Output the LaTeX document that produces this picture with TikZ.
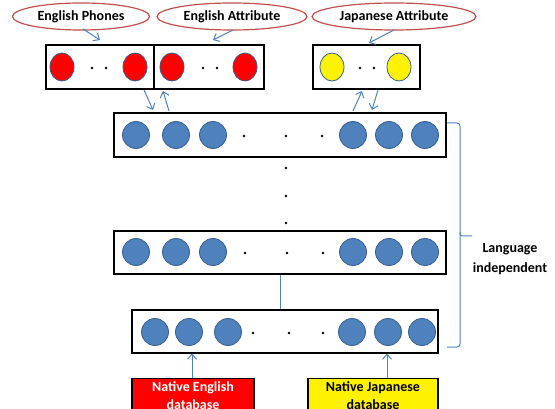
\documentclass[tikz,border=0pt]{standalone}
\usepackage{fontspec}
\setmainfont{Carlito}
\usetikzlibrary{shapes.geometric,arrows.meta}
\definecolor{nblue}{HTML}{4F81BD}
\definecolor{nbluedark}{HTML}{385D8A}
\definecolor{ered}{HTML}{C0504D}
\begin{document}
\begin{tikzpicture}[x=1pt,y=-1pt,
  lbl/.style={ellipse, draw=ered, line width=1.2pt, fill=white, minimum height=27pt, inner sep=0pt, font=\fontsize{14}{16}\selectfont\bfseries},
  layerbox/.style={draw=black, line width=1.3pt, fill=white, inner sep=0pt},
  rc/.style={ellipse, draw=nbluedark, line width=0.8pt, fill=red, minimum width=24pt, minimum height=28pt, inner sep=0pt},
  yc/.style={ellipse, draw=nbluedark, line width=0.8pt, fill=yellow, minimum width=24pt, minimum height=28pt, inner sep=0pt},
  bc/.style={circle, draw=nbluedark, line width=0.8pt, fill=nblue, minimum size=27pt, inner sep=0pt},
  dt/.style={circle, fill=black, minimum size=2.6pt, inner sep=0pt},
  arr/.style={draw=nblue, line width=1pt, -{Straight Barb[length=5pt,width=9pt]}},
  dbbox/.style={draw=black, line width=1.3pt, inner sep=0pt, align=center, font=\fontsize{14}{18}\selectfont\bfseries}
]
\useasboundingbox (0,0) rectangle (555,409);
\clip (0,0) rectangle (555,409);

% ellipses
\node[lbl, minimum width=137pt] (ep) at (81,16.5) {English Phones};
\node[lbl, minimum width=150pt] (ea) at (232,16.5) {English Attribute};
\node[lbl, minimum width=164pt] (ja) at (394,16.5) {Japanese Attribute};

% top boxes
\node[layerbox, minimum width=108pt, minimum height=44pt] (b1) at (100,67) {};
\node[layerbox, minimum width=110pt, minimum height=44pt] (b2) at (209,67) {};
\node[layerbox, minimum width=107pt, minimum height=44pt] (b3) at (366.5,67) {};

\node[rc] (r1) at (62,67) {};
\node[rc] (r2) at (135,67) {};
\node[dt] (rd1) at (92,68) {};
\node[dt] (rd2) at (106,68) {};
\node[rc] (r3) at (172,67) {};
\node[rc] (r4) at (245,67) {};
\node[dt] (rd3) at (203,68) {};
\node[dt] (rd4) at (217,68) {};
\node[yc] (y1) at (332,67) {};
\node[yc] (y2) at (399,67) {};
\node[dt] (yd1) at (360,68) {};
\node[dt] (yd2) at (374,68) {};

% hidden layers
\node[layerbox, minimum width=332pt, minimum height=44pt] (h1) at (280,135) {};
\node[layerbox, minimum width=332pt, minimum height=43pt] (h2) at (280,252.5) {};
\node[layerbox, minimum width=306pt, minimum height=43pt] (h3) at (285,331.5) {};

\foreach \x [count=\i] in {136,176,213,353,389,425}{
  \node[bc] (h1c\i) at (\x,135) {};
  \node[bc] (h2c\i) at (\x,252) {};
}
\foreach \x [count=\i] in {244,286,322}{
  \node[dt] (h1d\i) at (\x,136) {};
}
\foreach \x [count=\i] in {245,287,323}{
  \node[dt] (h2d\i) at (\x,253) {};
}
\foreach \y [count=\i] in {168,196,223}{
  \node[dt] (vd\i) at (286,\y) {};
}
\foreach \x [count=\i] in {155,189,228,352,388,422}{
  \node[bc] (h3c\i) at (\x,332) {};
}
\foreach \x [count=\i] in {253,289,323}{
  \node[dt] (h3d\i) at (\x,333) {};
}

% database boxes
\node[dbbox, fill=red, text=white, minimum width=122pt, minimum height=34pt, anchor=north] (db1) at (193,378) {Native English\\database};
\node[dbbox, fill=yellow, text=black, minimum width=130pt, minimum height=34pt, anchor=north] (db2) at (373,378) {Native Japanese\\database};

% arrows from ellipses
\coordinate (epS) at (83,29);
\coordinate (epE) at (100,40);
\coordinate (eaS) at (233,30);
\coordinate (eaE) at (213,40);
\coordinate (jaS) at (394,30);
\coordinate (jaE) at (369,43);
\draw[arr] (epS) -- (epE);
\draw[arr] (eaS) -- (eaE);
\draw[arr] (jaS) -- (jaE);

% arrows between top boxes and first hidden layer
\coordinate (a1s) at (144,90);
\coordinate (a1e) at (153,110);
\coordinate (a2s) at (169,111);
\coordinate (a2e) at (163,91);
\coordinate (a3s) at (353,111);
\coordinate (a3e) at (362,91);
\coordinate (a4s) at (378,90);
\coordinate (a4e) at (372,110);
\draw[arr] (a1s) -- (a1e);
\draw[arr] (a2s) -- (a2e);
\draw[arr] (a3s) -- (a3e);
\draw[arr] (a4s) -- (a4e);

% line between h2 and h3
\draw[nblue, line width=1pt] (h2.south) -- (h3.north -| h2.south);

% arrows from databases
\draw[arr] (db1.north -| 192,0) -- (192,353.5);
\draw[arr] (db2.north -| 387,0) -- (387,353.5);

% brace
\coordinate (brT) at (447,123);
\coordinate (brB) at (447,347);
\draw[nblue, line width=1pt, rounded corners=3pt] (brT) -- (460,123) -- (460,236) -- (460,347) -- (brB);
\draw[nblue, line width=1pt, rounded corners=2pt] (460,232) -- (460,236) -- (472,236);
\node[font=\fontsize{14}{20}\selectfont\bfseries, align=center] (lang) at (510,259) {Language\\independent};
\end{tikzpicture}
\end{document}
